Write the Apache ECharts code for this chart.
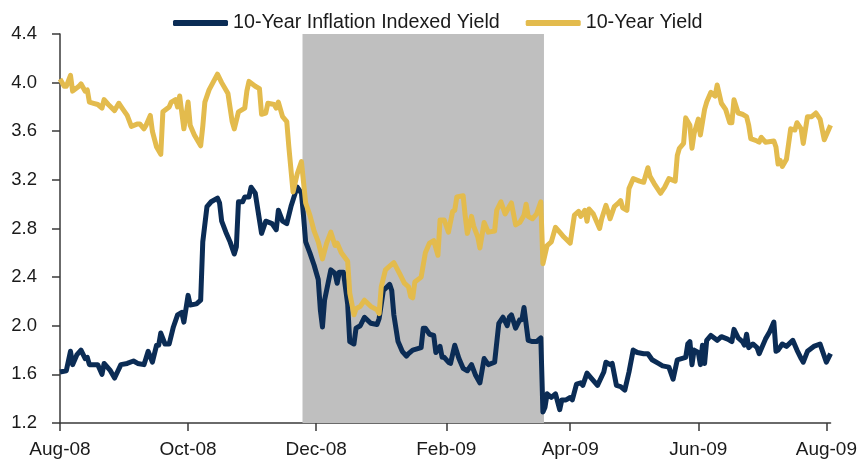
<!DOCTYPE html>
<html>
<head>
<meta charset="utf-8">
<script src="https://cdn.jsdelivr.net/npm/echarts@6/dist/echarts.min.js"></script>
<style>
  html, body { margin: 0; padding: 0; background: #fff; }
  #chart { width: 860px; height: 467px; }
</style>
</head>
<body>
<div id="chart"></div>
<script>
// 10-Year Treasury yield (gold line)
const yieldDates = [
  "2008-08-01","2008-08-03","2008-08-04","2008-08-06","2008-08-07","2008-08-10","2008-08-11","2008-08-13","2008-08-14","2008-08-15","2008-08-17","2008-08-19","2008-08-21","2008-08-22","2008-08-24","2008-08-27","2008-08-29","2008-08-31",
  "2008-09-02","2008-09-04","2008-09-07","2008-09-08","2008-09-10","2008-09-11","2008-09-13","2008-09-14","2008-09-16","2008-09-18","2008-09-19","2008-09-22","2008-09-23","2008-09-25","2008-09-26","2008-09-27","2008-09-29",
  "2008-10-01","2008-10-02","2008-10-04","2008-10-07","2008-10-08","2008-10-09","2008-10-11","2008-10-15","2008-10-17","2008-10-20","2008-10-22","2008-10-23","2008-10-25","2008-10-28","2008-10-29","2008-10-30",
  "2008-11-02","2008-11-04","2008-11-05","2008-11-07","2008-11-08","2008-11-11","2008-11-12","2008-11-13","2008-11-15","2008-11-17","2008-11-18","2008-11-20","2008-11-22","2008-11-24","2008-11-26","2008-11-28","2008-11-30",
  "2008-12-02","2008-12-04","2008-12-06","2008-12-08","2008-12-10","2008-12-11","2008-12-13","2008-12-16","2008-12-17","2008-12-19","2008-12-20","2008-12-22","2008-12-24","2008-12-27","2008-12-30","2008-12-31",
  "2009-01-01","2009-01-03","2009-01-05","2009-01-07","2009-01-10","2009-01-12","2009-01-14","2009-01-15","2009-01-16","2009-01-17","2009-01-20","2009-01-22","2009-01-24","2009-01-26","2009-01-28","2009-01-29","2009-01-31",
  "2009-02-02","2009-02-04","2009-02-05","2009-02-06","2009-02-09","2009-02-10","2009-02-11","2009-02-13","2009-02-14","2009-02-16","2009-02-17","2009-02-19","2009-02-21","2009-02-24","2009-02-25","2009-02-27",
  "2009-03-01","2009-03-03","2009-03-04","2009-03-06","2009-03-08","2009-03-10","2009-03-11","2009-03-12","2009-03-14","2009-03-16","2009-03-18","2009-03-19","2009-03-21","2009-03-23","2009-03-25","2009-03-27","2009-03-29",
  "2009-04-01","2009-04-03","2009-04-05","2009-04-06","2009-04-08","2009-04-09","2009-04-10","2009-04-12","2009-04-15","2009-04-16","2009-04-18","2009-04-19","2009-04-20","2009-04-22","2009-04-24","2009-04-25","2009-04-26","2009-04-28","2009-04-29",
  "2009-05-01","2009-05-04","2009-05-06","2009-05-08","2009-05-09","2009-05-11","2009-05-14","2009-05-16","2009-05-18","2009-05-21","2009-05-22","2009-05-23","2009-05-25","2009-05-26","2009-05-28","2009-05-29","2009-05-30",
  "2009-06-01","2009-06-02","2009-06-04","2009-06-05","2009-06-07","2009-06-09","2009-06-10","2009-06-12","2009-06-14","2009-06-16","2009-06-17","2009-06-18","2009-06-20","2009-06-22","2009-06-24","2009-06-25","2009-06-26","2009-06-29","2009-06-30",
  "2009-07-01","2009-07-03","2009-07-07","2009-07-08","2009-07-09","2009-07-10","2009-07-11","2009-07-13","2009-07-15","2009-07-17","2009-07-18","2009-07-20","2009-07-21","2009-07-23","2009-07-25","2009-07-27","2009-07-29","2009-07-31",
  "2009-08-03"
];
const yieldValues = [
  4.03,3.97,3.97,4.06,3.93,3.97,3.99,3.93,3.94,3.84,3.83,3.82,3.79,3.86,3.82,3.77,3.83,3.78,
  3.73,3.64,3.66,3.66,3.62,3.65,3.73,3.60,3.47,3.41,3.76,3.80,3.84,3.86,3.80,3.89,3.62,
  3.84,3.65,3.57,3.48,3.64,3.84,3.94,4.07,4.00,3.91,3.68,3.62,3.76,3.79,3.93,4.01,
  3.97,3.95,3.74,3.75,3.83,3.82,3.79,3.84,3.72,3.68,3.47,3.10,3.25,3.35,3.01,2.91,2.78,
  2.69,2.55,2.68,2.77,2.66,2.68,2.60,2.53,2.27,2.09,2.14,2.16,2.21,2.16,2.13,2.10,
  2.32,2.46,2.49,2.52,2.42,2.35,2.32,2.24,2.23,2.36,2.40,2.60,2.68,2.70,2.58,2.87,2.87,
  2.77,2.94,2.95,3.06,3.07,2.90,2.76,2.90,2.82,2.73,2.64,2.85,2.77,2.78,2.95,3.02,
  2.92,2.98,3.01,2.83,2.85,2.91,3.00,2.90,2.88,2.92,3.02,2.51,2.66,2.69,2.81,2.77,2.73,
  2.68,2.91,2.94,2.90,2.95,2.86,2.96,2.92,2.80,2.88,2.99,2.94,2.88,2.98,3.01,3.03,2.97,2.95,3.13,
  3.21,3.19,3.18,3.30,3.23,3.17,3.09,3.14,3.21,3.19,3.40,3.46,3.50,3.71,3.65,3.46,3.58,
  3.70,3.57,3.78,3.84,3.92,3.89,3.98,3.83,3.78,3.67,3.67,3.86,3.75,3.74,3.72,3.65,3.54,3.52,3.51,
  3.55,3.51,3.52,3.47,3.33,3.36,3.31,3.37,3.62,3.61,3.67,3.62,3.50,3.72,3.72,3.75,3.70,3.53,
  3.65
];

// 10-Year inflation indexed (TIPS) yield (navy line)
const tipsDates = [
  "2008-08-01","2008-08-04","2008-08-06","2008-08-07","2008-08-09","2008-08-11","2008-08-13","2008-08-14","2008-08-15","2008-08-18","2008-08-19","2008-08-21","2008-08-22","2008-08-25","2008-08-27","2008-08-30",
  "2008-09-02","2008-09-05","2008-09-07","2008-09-10","2008-09-12","2008-09-14","2008-09-16","2008-09-17","2008-09-18","2008-09-20","2008-09-22","2008-09-24","2008-09-26","2008-09-28","2008-09-29",
  "2008-10-01","2008-10-02","2008-10-05","2008-10-07","2008-10-08","2008-10-10","2008-10-12","2008-10-15","2008-10-16","2008-10-17","2008-10-19","2008-10-21","2008-10-23","2008-10-24","2008-10-25","2008-10-27","2008-10-28","2008-10-30","2008-10-31",
  "2008-11-02","2008-11-04","2008-11-05","2008-11-07","2008-11-10","2008-11-12","2008-11-13","2008-11-15","2008-11-17","2008-11-19","2008-11-21","2008-11-22","2008-11-24","2008-11-25","2008-11-26","2008-11-28","2008-11-30",
  "2008-12-02","2008-12-03","2008-12-04","2008-12-05","2008-12-08","2008-12-10","2008-12-11","2008-12-12","2008-12-14","2008-12-16","2008-12-17","2008-12-19","2008-12-20","2008-12-22","2008-12-24","2008-12-27","2008-12-30","2008-12-31",
  "2009-01-02","2009-01-05","2009-01-06","2009-01-07","2009-01-09","2009-01-11","2009-01-13","2009-01-14","2009-01-16","2009-01-20","2009-01-21","2009-01-22","2009-01-24","2009-01-26","2009-01-27","2009-01-29","2009-01-30","2009-01-31",
  "2009-02-02","2009-02-03","2009-02-05","2009-02-07","2009-02-09","2009-02-11","2009-02-13","2009-02-15","2009-02-17","2009-02-19","2009-02-21","2009-02-24","2009-02-26","2009-02-28",
  "2009-03-02","2009-03-03","2009-03-04","2009-03-06","2009-03-08","2009-03-09","2009-03-10","2009-03-12","2009-03-14","2009-03-16","2009-03-18","2009-03-19","2009-03-20","2009-03-21","2009-03-23","2009-03-25","2009-03-27","2009-03-28","2009-03-30",
  "2009-04-01","2009-04-02","2009-04-04","2009-04-06","2009-04-07","2009-04-09","2009-04-11","2009-04-14","2009-04-17","2009-04-18","2009-04-20","2009-04-21","2009-04-23","2009-04-25","2009-04-27","2009-04-29",
  "2009-05-01","2009-05-03","2009-05-06","2009-05-08","2009-05-10","2009-05-13","2009-05-15","2009-05-18","2009-05-20","2009-05-22","2009-05-24","2009-05-26","2009-05-27","2009-05-28","2009-05-29","2009-05-30",
  "2009-06-01","2009-06-02","2009-06-03","2009-06-04","2009-06-05","2009-06-07","2009-06-10","2009-06-12","2009-06-15","2009-06-17","2009-06-18","2009-06-20","2009-06-22","2009-06-23","2009-06-24","2009-06-25","2009-06-27","2009-06-29","2009-06-30",
  "2009-07-03","2009-07-05","2009-07-07","2009-07-08","2009-07-09","2009-07-11","2009-07-13","2009-07-16","2009-07-18","2009-07-20","2009-07-21","2009-07-23","2009-07-26","2009-07-29","2009-07-30",
  "2009-08-01","2009-08-03"
];
const tipsValues = [
  1.62,1.63,1.79,1.68,1.76,1.80,1.73,1.74,1.68,1.68,1.68,1.60,1.69,1.63,1.57,1.68,
  1.69,1.71,1.69,1.68,1.79,1.70,1.84,1.84,1.94,1.85,1.85,1.99,2.09,2.11,2.03,
  2.25,2.17,2.18,2.21,2.69,2.98,3.02,3.05,3.01,2.86,2.77,2.69,2.59,2.65,3.02,3.02,3.06,3.06,3.14,
  3.09,2.87,2.76,2.86,2.84,2.79,2.95,2.86,2.84,2.98,3.09,3.14,3.09,2.90,2.69,2.60,2.50,
  2.38,2.13,1.99,2.21,2.46,2.43,2.35,2.44,2.44,2.18,1.87,1.85,1.98,2.00,2.07,2.02,2.01,2.06,
  2.29,2.34,2.29,2.09,1.87,1.79,1.75,1.77,1.80,1.82,1.98,1.98,1.93,1.92,1.78,1.83,1.74,1.74,
  1.70,1.69,1.84,1.73,1.65,1.63,1.68,1.59,1.53,1.73,1.68,1.70,2.02,2.07,
  2.00,2.07,2.09,1.98,2.05,2.05,2.15,1.88,1.87,1.87,1.90,1.29,1.33,1.44,1.41,1.44,1.31,1.39,1.39,
  1.41,1.39,1.52,1.53,1.51,1.61,1.57,1.51,1.62,1.70,1.68,1.69,1.51,1.50,1.47,1.62,
  1.80,1.78,1.77,1.77,1.72,1.69,1.67,1.66,1.56,1.72,1.73,1.74,1.85,1.87,1.68,1.80,
  1.78,1.68,1.84,1.69,1.88,1.92,1.88,1.91,1.89,1.87,1.97,1.90,1.87,1.84,1.93,1.82,1.85,1.82,1.77,
  1.89,1.95,2.03,1.79,1.80,1.85,1.83,1.88,1.80,1.73,1.70,1.79,1.83,1.85,1.80,
  1.70,1.77
];

// x axis ticks and the shaded period
const tickDates = ["2008-08-01","2008-10-01","2008-12-01","2009-02-01","2009-04-01","2009-06-01","2009-08-01"];
const tickLabels = ["Aug-08","Oct-08","Dec-08","Feb-09","Apr-09","Jun-09","Aug-09"];
const axisStart = "2008-08-01";
const axisEnd = "2009-08-03";
const shadeStart = "2008-11-24T12:00:00";
const shadeEnd = "2009-03-19T12:00:00";

const FONT = "'Liberation Sans', Arial, sans-serif";

function toTime(s) {
  return new Date(s.length > 10 ? s : s + "T00:00:00").getTime();
}
function pairs(dates, values) {
  return dates.map((d, i) => [toTime(d), values[i]]);
}
const tickTimes = tickDates.map(toTime);

const myChart = echarts.init(document.getElementById("chart"));

const option = {
  animation: false,
  textStyle: { fontFamily: FONT },
  legend: {
    top: 8,
    left: 168,
    itemWidth: 55,
    itemHeight: 6,
    itemGap: 26,
    icon: "roundRect",
    textStyle: { fontFamily: FONT, fontSize: 19.7, color: "#1a1a1a" },
    data: ["10-Year Inflation Indexed Yield", "10-Year Yield"],
  },
  grid: { left: 60, right: 29, top: 34, bottom: 44 },
  xAxis: {
    type: "value",
    min: toTime(axisStart),
    max: toTime(axisEnd),
    scale: true,
    splitLine: { show: false },
    axisLine: { lineStyle: { color: "#3a3a3a", width: 1.5 } },
    axisTick: {
      customValues: tickTimes,
      length: 8,
      lineStyle: { color: "#3a3a3a", width: 1.5 },
    },
    axisLabel: {
      customValues: tickTimes,
      margin: 17,
      fontFamily: FONT,
      fontSize: 19,
      color: "#1a1a1a",
      formatter: (v) => tickLabels[tickTimes.indexOf(v)] || "",
    },
  },
  yAxis: {
    type: "value",
    min: 1.2,
    max: 4.4,
    interval: 0.4,
    splitLine: { show: false },
    axisLine: { show: true, lineStyle: { color: "#3a3a3a", width: 1.5 } },
    axisTick: { show: true, length: 8, lineStyle: { color: "#3a3a3a", width: 1.5 } },
    axisLabel: {
      margin: 23,
      fontFamily: FONT,
      fontSize: 18.5,
      color: "#1a1a1a",
      formatter: (v) => v.toFixed(1),
    },
  },
  series: [
    {
      name: "10-Year Inflation Indexed Yield",
      type: "line",
      data: pairs(tipsDates, tipsValues),
      showSymbol: false,
      symbol: "none",
      lineStyle: { color: "#0b2c55", width: 5, join: "round" },
      itemStyle: { color: "#0b2c55" },
      markArea: {
        silent: true,
        itemStyle: { color: "#bfbfbf" },
        data: [[{ xAxis: toTime(shadeStart) }, { xAxis: toTime(shadeEnd) }]],
      },
    },
    {
      name: "10-Year Yield",
      type: "line",
      data: pairs(yieldDates, yieldValues),
      showSymbol: false,
      symbol: "none",
      lineStyle: { color: "#e3bb4d", width: 5, join: "round" },
      itemStyle: { color: "#e3bb4d" },
    },
  ],
};

myChart.setOption(option, true);
</script>
</body>
</html>
